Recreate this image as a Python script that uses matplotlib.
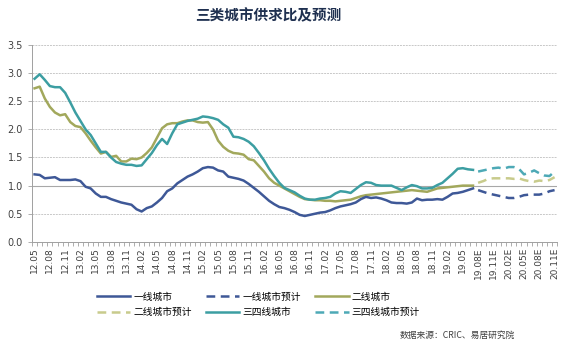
import numpy as np
import matplotlib.pyplot as plt
from matplotlib.lines import Line2D

plt.rcParams['font.family'] = ['Noto Sans CJK SC', 'DejaVu Sans']

# 12.05 - 19.07 actual, 19.08E - 20.11E forecast
tier1 = [1.20, 1.19, 1.13, 1.14, 1.15, 1.10, 1.10, 1.10, 1.11, 1.08,
         0.98, 0.95, 0.86, 0.80, 0.80, 0.76, 0.73, 0.70, 0.68, 0.66,
         0.58, 0.54, 0.60, 0.63, 0.70, 0.78, 0.90, 0.95, 1.04, 1.10,
         1.16, 1.20, 1.25, 1.31, 1.33, 1.32, 1.27, 1.25, 1.16, 1.14,
         1.12, 1.09, 1.03, 0.96, 0.89, 0.81, 0.73, 0.67, 0.62, 0.60,
         0.57, 0.53, 0.48, 0.46, 0.48, 0.50, 0.52, 0.53, 0.56, 0.60,
         0.63, 0.65, 0.67, 0.70, 0.76, 0.80, 0.78, 0.79, 0.77, 0.74,
         0.70, 0.69, 0.69, 0.68, 0.70, 0.77, 0.74, 0.75, 0.75, 0.76,
         0.75, 0.80, 0.86, 0.87, 0.89, 0.92, 0.95]
tier2 = [2.73, 2.76, 2.55, 2.40, 2.30, 2.25, 2.27, 2.13, 2.06, 2.04,
         1.93, 1.80, 1.68, 1.57, 1.60, 1.51, 1.53, 1.43, 1.43, 1.48,
         1.47, 1.50, 1.58, 1.68, 1.85, 2.02, 2.09, 2.11, 2.11, 2.14,
         2.16, 2.16, 2.13, 2.12, 2.13, 2.00, 1.80, 1.69, 1.62, 1.58,
         1.57, 1.55, 1.47, 1.45, 1.35, 1.25, 1.13, 1.05, 1.00, 0.95,
         0.90, 0.85, 0.80, 0.76, 0.75, 0.74, 0.74, 0.73, 0.73, 0.72,
         0.73, 0.74, 0.75, 0.78, 0.81, 0.83, 0.84, 0.85, 0.86, 0.87,
         0.88, 0.89, 0.90, 0.91, 0.92, 0.91, 0.90, 0.89, 0.92, 0.95,
         0.96, 0.97, 0.98, 0.99, 1.00, 1.00, 1.00]
tier34 = [2.90, 2.98, 2.88, 2.77, 2.75, 2.75, 2.65, 2.48, 2.30, 2.15,
          2.00, 1.90, 1.75, 1.60, 1.60, 1.50, 1.42, 1.39, 1.37, 1.37,
          1.35, 1.36, 1.47, 1.58, 1.72, 1.83, 1.74, 1.93, 2.09, 2.12,
          2.15, 2.17, 2.19, 2.23, 2.22, 2.20, 2.17, 2.09, 2.03, 1.87,
          1.86, 1.83, 1.78, 1.70, 1.58, 1.45, 1.30, 1.17, 1.05, 0.96,
          0.92, 0.88, 0.82, 0.77, 0.75, 0.75, 0.77, 0.78, 0.80, 0.86,
          0.90, 0.89, 0.87, 0.94, 1.01, 1.06, 1.05, 1.01, 1.00, 1.00,
          1.00, 0.96, 0.92, 0.97, 1.01, 0.99, 0.95, 0.95, 0.96, 1.01,
          1.05, 1.13, 1.21, 1.30, 1.31, 1.29, 1.28]

tier1_fc = [0.92, 0.89, 0.86, 0.84, 0.82, 0.80, 0.78, 0.78,
            0.80, 0.83, 0.84, 0.84, 0.84, 0.86, 0.90, 0.92]
tier2_fc = [1.05, 1.08, 1.12, 1.13, 1.13, 1.13, 1.13, 1.12,
            1.13, 1.10, 1.08, 1.07, 1.09, 1.08, 1.10, 1.15]
tier34_fc = [1.25, 1.27, 1.29, 1.31, 1.32, 1.30, 1.33, 1.33,
             1.30, 1.20, 1.23, 1.27, 1.22, 1.18, 1.17, 1.25]

tick_labels = ['12.05', '12.08', '12.11', '13.02', '13.05', '13.08', '13.11',
               '14.02', '14.05', '14.08', '14.11', '15.02', '15.05', '15.08',
               '15.11', '16.02', '16.05', '16.08', '16.11', '17.02', '17.05',
               '17.08', '17.11', '18.02', '18.05', '18.08', '18.11', '19.02',
               '19.05', '19.08E', '19.11E', '20.02E', '20.05E', '20.08E',
               '20.11E']

c1, c1f = '#3E5897', '#3E5897'
c2, c2f = '#A2A85C', '#C8CB8C'
c3, c3f = '#3C9EA2', '#4DA9B6'

n_act = len(tier1)
x_act = np.arange(n_act)
x_fc = np.arange(n_act, n_act + len(tier1_fc))
n_all = n_act + len(tier1_fc)

fig = plt.figure(figsize=(5.72, 3.49), dpi=100)
ax = fig.add_axes([0.056, 0.307, 0.918, 0.564])

dash = (0, (3.5, 2.2))
lw = 1.8
ax.plot(x_act, tier1, color=c1, lw=lw, zorder=4)
ax.plot(x_fc, tier1_fc, color=c1f, lw=lw, ls=dash, zorder=4)
ax.plot(x_act, tier2, color=c2, lw=lw, zorder=3)
ax.plot(x_fc, tier2_fc, color=c2f, lw=lw, ls=dash, zorder=3)
ax.plot(x_act, tier34, color=c3, lw=lw, zorder=3)
ax.plot(x_fc, tier34_fc, color=c3f, lw=lw, ls=dash, zorder=3)

ax.set_ylim(0, 3.5)
ax.set_xlim(-0.5, n_all - 0.5)
ax.set_yticks(np.arange(0, 3.51, 0.5))
ax.set_yticklabels(['%.1f' % v for v in np.arange(0, 3.51, 0.5)])
for v in np.arange(0.5, 3.51, 0.5):
    if abs(v - 1.0) < 1e-6:
        ax.axhline(v, color='#A8A8A8', lw=0.8, zorder=1)
    else:
        ax.axhline(v, color='#C8C8C8', lw=0.7, ls=(0, (2, 1)), zorder=1)

ax.set_xticks(np.arange(0, n_all, 3))
ax.set_xticklabels(tick_labels, rotation=90, fontsize=6.5, color='#404040',
                   family='DejaVu Sans')
ax.set_xticks(np.arange(-0.5, n_all, 1), minor=True)
ax.tick_params(axis='x', which='major', length=0, pad=4)
ax.tick_params(axis='x', which='minor', length=3, color='#A0A0A0', width=0.6)
ax.tick_params(axis='y', length=3, labelsize=7, labelcolor='#404040',
               color='#A0A0A0', width=0.6)
for lbl in ax.get_yticklabels():
    lbl.set_family('DejaVu Sans')

for s in ['top', 'right']:
    ax.spines[s].set_visible(False)
ax.spines['left'].set_color('#A0A0A0')
ax.spines['bottom'].set_color('#A0A0A0')
ax.spines['left'].set_linewidth(0.7)
ax.spines['bottom'].set_linewidth(0.7)

fig.text(0.469, 0.955, '三类城市供求比及预测', ha='center', va='center',
         fontsize=10.5, fontweight='bold', color='#1F3050')

handles = [Line2D([], [], color=c1, lw=lw),
           Line2D([], [], color=c2f, lw=lw, ls=dash),
           Line2D([], [], color=c1f, lw=lw, ls=dash),
           Line2D([], [], color=c3, lw=lw),
           Line2D([], [], color=c2, lw=lw),
           Line2D([], [], color=c3f, lw=lw, ls=dash)]
labels = ['一线城市', '二线城市预计', '一线城市预计', '三四线城市',
          '二线城市', '三四线城市预计']
fig.legend(handles, labels, loc='center', bbox_to_anchor=(0.452, 0.128),
           ncol=3, frameon=False, fontsize=7, handlelength=3.4,
           columnspacing=1.5, handletextpad=0.3, labelspacing=0.6)

fig.text(0.9, 0.04, '数据来源：CRIC、易居研究院', ha='right', va='center',
         fontsize=6.3, color='#404040')

fig.savefig('out.png', dpi=100)
